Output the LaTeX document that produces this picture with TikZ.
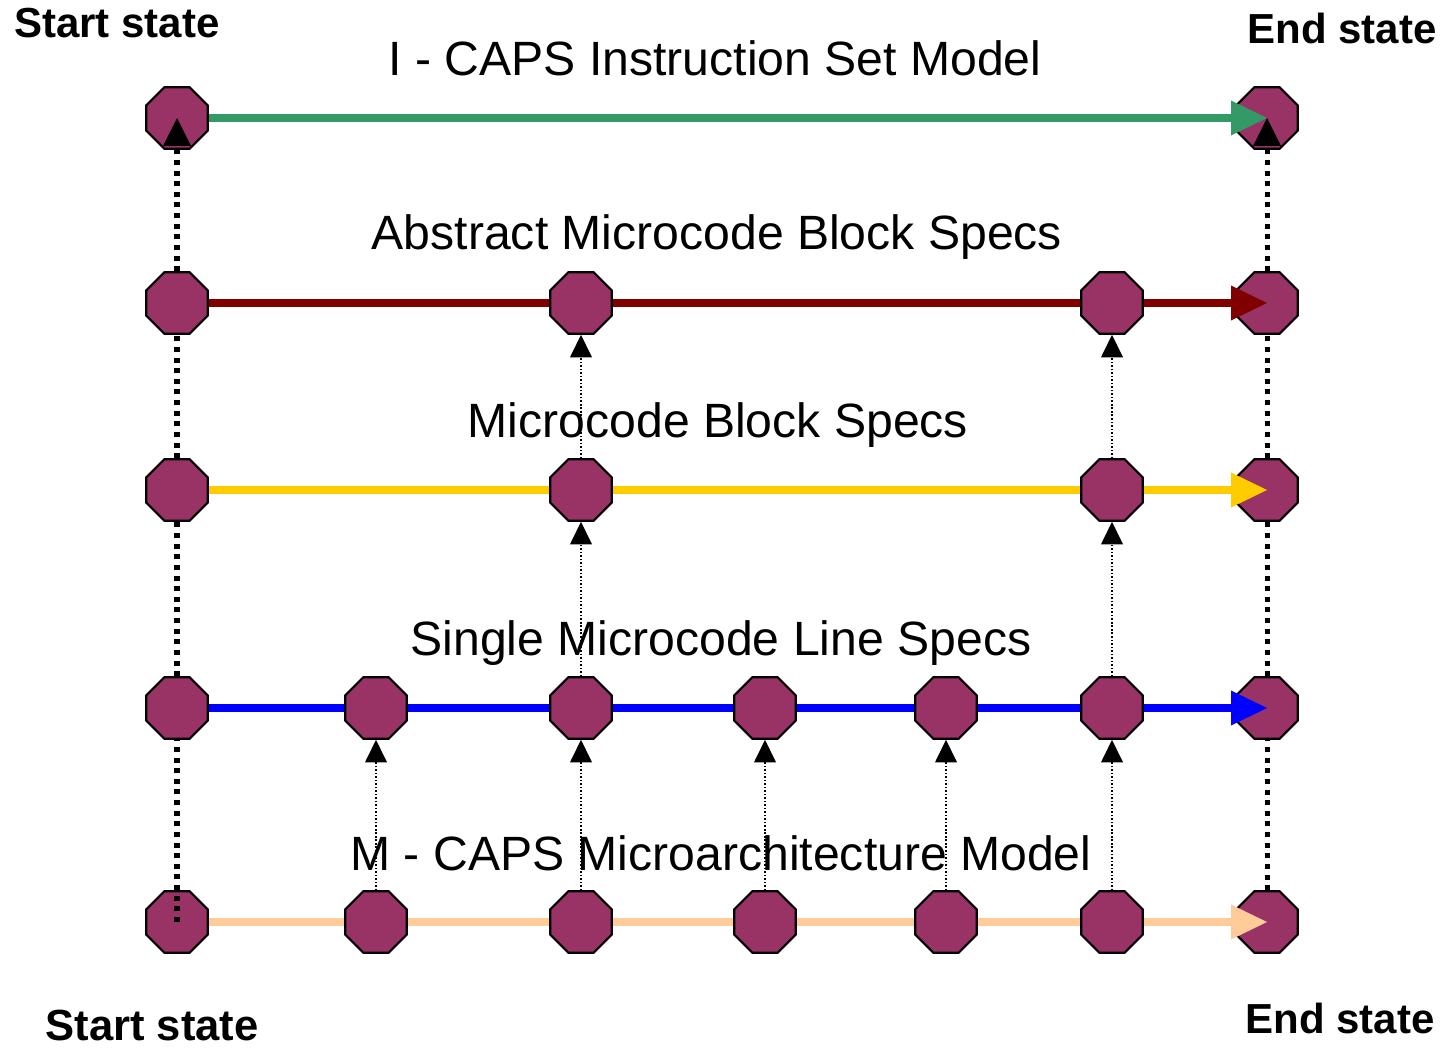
\documentclass[tikz,border=0pt]{standalone}
\usepackage{fontspec}
\setmainfont{Liberation Sans}
\usetikzlibrary{shapes.geometric,arrows.meta}
\definecolor{octfill}{RGB}{153,51,102}
\definecolor{isagreen}{RGB}{51,153,102}
\definecolor{ambred}{RGB}{128,0,0}
\definecolor{mbgold}{RGB}{255,204,0}
\definecolor{smlblue}{RGB}{0,0,255}
\definecolor{mampeach}{RGB}{255,204,153}

\begin{document}
\begin{tikzpicture}[x=0.02cm, y=-0.02cm,
    state/.style={regular polygon, regular polygon sides=8, draw, fill=octfill, line width=1.2pt, minimum size=1.33cm, inner sep=0pt},
    flow/.style={line width=4.8pt},
    flowhead/.style={flow, -{Triangle[length=0.72cm, width=0.7cm, line width=0pt]}},
    link/.style={line width=2.85pt, dash pattern=on 2.85pt off 3.2pt},
    linkhead/.style={link, -{Triangle[length=0.56cm, width=0.56cm, line width=0pt]}},
    refine/.style={line width=0.9pt, dash pattern=on 0.9pt off 1.1pt, -{Triangle[length=0.45cm, width=0.44cm, line width=0pt]}},
    level/.style={anchor=base, font=\fontsize{27.4}{32}\selectfont},
    endpoint/.style={anchor=base, font=\fontsize{23.9}{28}\selectfont\bfseries}
]
\useasboundingbox (0,0) rectangle (1447,1048);

% States
\node[state] (isa0) at (177,118) {};
\node[state] (isa6) at (1267,118) {};
\node[state] (amb0) at (177,303) {};
\node[state] (amb2) at (581,303) {};
\node[state] (amb5) at (1112,303) {};
\node[state] (amb6) at (1267,303) {};
\node[state] (mb0) at (177,490) {};
\node[state] (mb2) at (581,490) {};
\node[state] (mb5) at (1112,490) {};
\node[state] (mb6) at (1267,490) {};
\foreach \i/\x in {0/177,1/376,2/581,3/765,4/946,5/1112,6/1267} {
    \node[state] (sml\i) at (\x,708) {};
    \node[state] (mam\i) at (\x,922) {};
}

% Level flows
\draw[flowhead, isagreen] (isa0) -- (isa6.center);
\draw[flow, ambred] (amb0) -- (amb2) (amb2) -- (amb5);
\draw[flowhead, ambred] (amb5) -- (amb6.center);
\draw[flow, mbgold] (mb0) -- (mb2) (mb2) -- (mb5);
\draw[flowhead, mbgold] (mb5) -- (mb6.center);
\foreach \i [evaluate=\i as \j using int(\i+1)] in {0,...,4} {
    \draw[flow, smlblue] (sml\i) -- (sml\j);
    \draw[flow, mampeach] (mam\i) -- (mam\j);
}
\draw[flowhead, smlblue] (sml5) -- (sml6.center);
\draw[flowhead, mampeach] (mam5) -- (mam6.center);

% Start and end links
\draw[link] (mam0.center) -- (sml0) (sml0) -- (mb0) (mb0) -- (amb0);
\draw[linkhead] (amb0) -- (isa0.center);
\draw[link] (mam6) -- (sml6) (sml6) -- (mb6) (mb6) -- (amb6);
\draw[linkhead] (amb6) -- (isa6.center);

% Refinements
\foreach \i in {1,...,5} {
    \draw[refine] (mam\i) -- (sml\i);
}
\draw[refine] (sml2) -- (mb2);
\draw[refine] (sml5) -- (mb5);
\draw[refine] (mb2) -- (amb2);
\draw[refine] (mb5) -- (amb5);

% Level labels
\node[level] (isalabel) at (715,75) {I - CAPS Instruction Set Model};
\node[level] (amblabel) at (717,249) {Abstract Microcode Block Specs};
\node[level] (mblabel) at (718,437) {Microcode Block Specs};
\node[level] (smllabel) at (721,655) {Single Microcode Line Specs};
\node[level] (mamlabel) at (721,870) {M - CAPS Microarchitecture Model};

% Start and end labels
\node[endpoint] (starttop) at (117,37) {Start state};
\node[endpoint] (endtop) at (1342,43) {End state};
\node[endpoint, font=\fontsize{24.8}{28}\selectfont\bfseries] (startbot) at (152,1040) {Start state};
\node[endpoint] (endbot) at (1340,1033) {End state};
\end{tikzpicture}
\end{document}
